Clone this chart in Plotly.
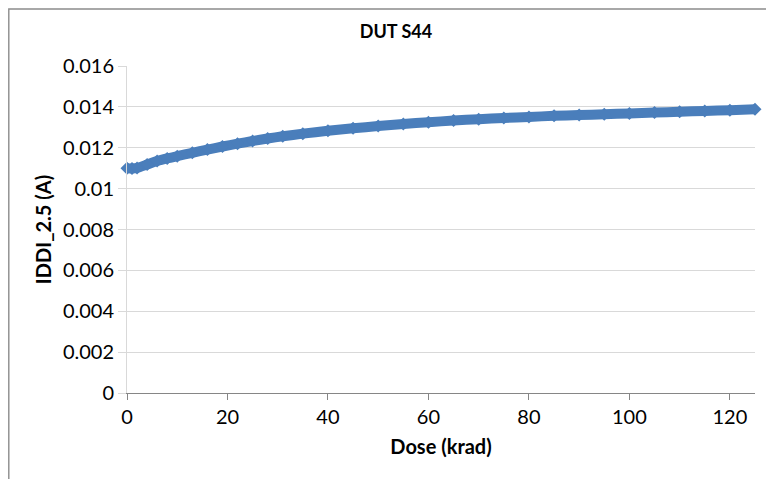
import plotly.graph_objects as go

dose = [0, 1, 2, 4, 6, 8, 10, 13, 16, 19, 22, 25, 28, 31, 35, 40, 45, 50, 55, 60,
        65, 70, 75, 80, 85, 90, 95, 100, 105, 110, 115, 120, 125]
iddi = [0.01100, 0.01099, 0.01101, 0.01118, 0.01135, 0.01148, 0.01159, 0.01175,
        0.01191, 0.01206, 0.01220, 0.01233, 0.01245, 0.01256, 0.01269, 0.01283,
        0.01295, 0.01306, 0.01316, 0.01325, 0.01333, 0.01340, 0.01346, 0.01351,
        0.01356, 0.01360, 0.01364, 0.01368, 0.01372, 0.01376, 0.01380, 0.01384,
        0.01388]

x_ticks = [0, 20, 40, 60, 80, 100, 120]
y_ticks = [0, 0.002, 0.004, 0.006, 0.008, 0.01, 0.012, 0.014, 0.016]
y_tick_text = ["0", "0.002", "0.004", "0.006", "0.008", "0.01", "0.012", "0.014", "0.016"]

BLUE = "#4a7ebb"
FONT = "Lato"

fig = go.Figure()
fig.add_trace(go.Scatter(
    x=dose, y=iddi, mode="lines+markers",
    line=dict(color=BLUE, width=10, shape="spline", smoothing=0.6),
    marker=dict(symbol="diamond", size=10, color=BLUE),
    cliponaxis=False, showlegend=False,
))

fig.update_layout(
    width=766, height=471,
    margin=dict(l=119, r=19, t=58, b=86),
    paper_bgcolor="white", plot_bgcolor="white",
    font=dict(family=FONT, color="#000000", size=20),
    title=dict(text="<b>DUT S44</b>", x=0.5065, xanchor="center", y=0.949, yanchor="middle",
               font=dict(family=FONT, size=18, color="#000000")),
    xaxis=dict(
        range=[0, 125], tickvals=x_ticks, ticks="outside", ticklen=6, tickcolor="#868686",
        showline=True, linecolor="#868686", linewidth=1.3, showgrid=False, zeroline=False,
        title=dict(text="<b>Dose (krad)</b>", font=dict(family=FONT, size=20), standoff=12),
        tickfont=dict(family=FONT, size=20),
    ),
    yaxis=dict(
        range=[0, 0.016], tickvals=y_ticks, ticktext=y_tick_text, ticks="outside", ticklen=8,
        tickcolor="#d9d9d9", showline=True, linecolor="#d9d9d9", linewidth=1,
        showgrid=True, gridcolor="#d9d9d9", gridwidth=1, zeroline=False,
        title=dict(text="<b>IDDI_2.5 (A)</b>", font=dict(family=FONT, size=20), standoff=5),
        tickfont=dict(family=FONT, size=20),
    ),
    shapes=[dict(type="rect", xref="paper", yref="paper",
                 x0=(0.8 - 119) / 628, x1=1.2, y0=-0.5, y1=(385 - 1.0) / 327,
                 line=dict(color="#8c8c8c", width=1.4), fillcolor="rgba(0,0,0,0)", layer="above")],
)

fig.write_html("out.html")
